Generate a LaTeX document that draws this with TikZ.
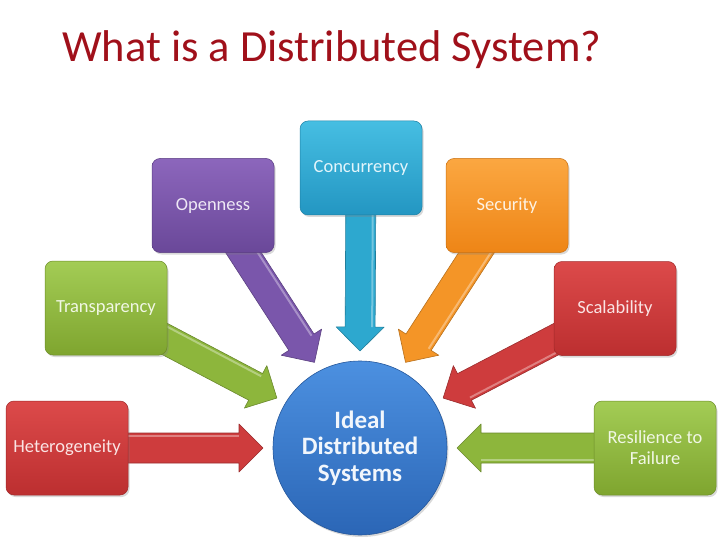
\documentclass[tikz,border=0pt]{standalone}
\usepackage{fontspec}
\setmainfont{Carlito}
\usetikzlibrary{calc,shadows}
\pgfdeclarelayer{background}
\pgfsetlayers{background,main}
\definecolor{titlered}{HTML}{A0101A}
\definecolor{cyanT}{HTML}{46BEE2}\definecolor{cyanB}{HTML}{2396C2}\definecolor{cyanA}{HTML}{2DA8CF}
\definecolor{purT}{HTML}{8C66BC}\definecolor{purB}{HTML}{6A4899}\definecolor{purA}{HTML}{7A56AB}
\definecolor{orT}{HTML}{FBA741}\definecolor{orB}{HTML}{EE8516}\definecolor{orA}{HTML}{F49527}
\definecolor{grT}{HTML}{A3CC55}\definecolor{grB}{HTML}{7FA52F}\definecolor{grA}{HTML}{8DB63C}
\definecolor{rdT}{HTML}{DC4A4A}\definecolor{rdB}{HTML}{BC2F30}\definecolor{rdA}{HTML}{CE3C3D}
\definecolor{blT}{HTML}{4C90E0}\definecolor{blB}{HTML}{2B66B6}
\newcommand\blockarrow[3]{%
  \coordinate (bah) at ($(#2)!24pt!(#1)$);
  \filldraw[fill=#3, draw=#3!75!black, line width=0.6pt, line join=round]
    ($(#1)!15pt!90:(#2)$) -- ($(bah)!15pt!90:(#2)$) -- ($(bah)!24pt!90:(#2)$) -- (#2)
    -- ($(bah)!24pt!-90:(#2)$) -- ($(bah)!15pt!-90:(#2)$) -- ($(#1)!15pt!-90:(#2)$) -- cycle;
  \draw[white, opacity=0.35, line width=2pt]
    ($(#1)!12pt!90:(#2)$) -- ($(bah)!12pt!90:(#2)$);
}
\tikzset{
  box/.style={rounded corners=8pt, minimum width=122pt, minimum height=94pt, inner sep=3pt,
    align=center, font=\fontsize{18.5}{21}\selectfont,
    drop shadow={opacity=0.3, shadow xshift=1.5pt, shadow yshift=-2pt}},
  boxc/.style={box, top color=#1T, bottom color=#1B, draw=#1B!85!black, line width=0.5pt, text=white!85!#1T},
}
\begin{document}
\begin{tikzpicture}[x=1pt,y=-1pt]
\useasboundingbox (0,0) rectangle (720,540);
\node[anchor=base west, text=titlered, font=\fontsize{44.5}{50}\selectfont, inner sep=0] (title) at (62,62) {What is a Distributed System?};

\node[boxc=cyan] (conc) at (361,168) {Concurrency};
\node[boxc=pur] (open) at (213,205.5) {Openness};
\node[boxc=or] (secu) at (507,205.5) {Security};
\node[boxc=gr] (tran) at (106,308) {Transparency};
\node[boxc=rd] (scal) at (615,308.5) {Scalability};
\node[boxc=rd] (hete) at (67,448) {Heterogeneity};
\node[boxc=gr] (resi) at (655,448) {Resilience to\\Failure};

\node[circle, minimum size=174pt, inner sep=0pt, outer sep=10pt, top color=blT, bottom color=blB,
  draw=blB!85!black, line width=0.6pt, align=center, text=white!92!blT,
  font=\bfseries\fontsize{25}{26.5}\selectfont,
  drop shadow={opacity=0.3, shadow xshift=1.5pt, shadow yshift=-2pt}] (ideal) at (360,448)
  {Ideal\\Distributed\\Systems};

\begin{pgfonlayer}{background}
\blockarrow{conc.center}{ideal.90}{cyanA}
\blockarrow{open.center}{ideal.118}{purA}
\blockarrow{secu.center}{ideal.62}{orA}
\blockarrow{tran.center}{ideal.149}{grA}
\blockarrow{scal.center}{ideal.31}{rdA}
\blockarrow{hete.center}{ideal.180}{rdA}
\blockarrow{resi.center}{ideal.0}{grA}
\end{pgfonlayer}
\end{tikzpicture}
\end{document}
